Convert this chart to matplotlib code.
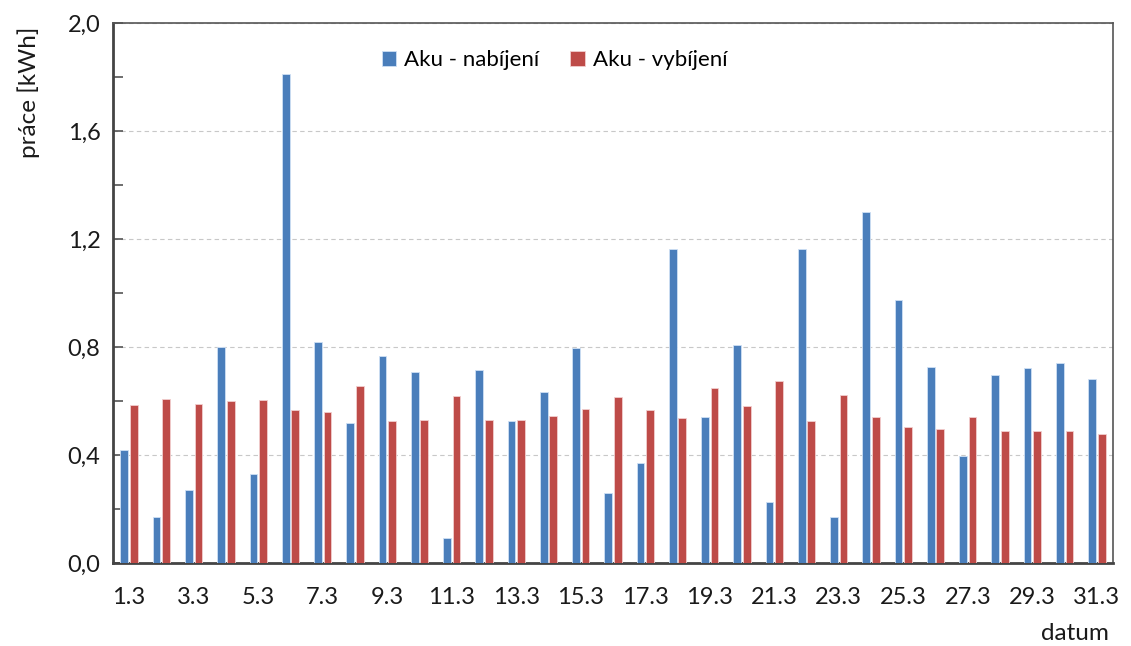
import matplotlib
matplotlib.use("Agg")
import matplotlib.pyplot as plt
import numpy as np

days = [f"{d}.3" for d in range(1, 32)]
nabijeni = [0.42, 0.17, 0.27, 0.80, 0.33, 1.81, 0.82, 0.52, 0.765, 0.706, 0.094,
            0.715, 0.527, 0.632, 0.795, 0.26, 0.372, 1.162, 0.542, 0.809, 0.226,
            1.162, 0.172, 1.299, 0.973, 0.726, 0.395, 0.696, 0.721, 0.741, 0.682]
vybijeni = [0.585, 0.609, 0.589, 0.600, 0.604, 0.566, 0.561, 0.657, 0.527, 0.531,
            0.619, 0.531, 0.531, 0.546, 0.570, 0.614, 0.566, 0.537, 0.648, 0.580,
            0.673, 0.527, 0.623, 0.542, 0.502, 0.498, 0.542, 0.488, 0.488, 0.488, 0.478]

plt.rcParams['font.family'] = ['Lato', 'DejaVu Sans']
fig = plt.figure(figsize=(11.31, 6.46), dpi=100)
ax = fig.add_axes([113/1131, 1 - 563/646, 1000/1131, 540/646])

x = np.arange(len(days))
w = 0.24
off = 0.148
blue = '#4a7ebb'
red = '#be4b48'
ax.bar(x - off, nabijeni, w, color=blue, edgecolor='#cfe0f5', linewidth=0.6,
       label='Aku - nabíjení', zorder=3)
ax.bar(x + off, vybijeni, w, color=red, edgecolor='#f2cfcf', linewidth=0.6,
       label='Aku - vybíjení', zorder=3)

ax.set_xlim(-0.5, len(days) - 0.5)
ax.set_ylim(0, 2.0)
ax.set_yticks(np.arange(0, 2.01, 0.4))
ax.set_yticklabels([f"{v:.1f}".replace('.', ',') for v in np.arange(0, 2.01, 0.4)])
ax.set_yticks(np.arange(0, 2.01, 0.2), minor=True)
ax.tick_params(axis='y', which='both', direction='in', length=7, width=1.2,
               color='#555555', labelsize=17, pad=9, labelcolor='#1a1a1a')
ax.set_xticks(x[::2])
ax.set_xticklabels(days[::2])
ax.tick_params(axis='x', length=0, labelsize=17, pad=17, labelcolor='#1a1a1a')

ax.yaxis.grid(True, which='major', linestyle=(0, (4, 3)), color='#c8c8c8', linewidth=0.8)
ax.set_axisbelow(True)

for side in ['left', 'bottom']:
    ax.spines[side].set_linewidth(2.0)
    ax.spines[side].set_color('#444444')
for side in ['top', 'right']:
    ax.spines[side].set_linewidth(1.2)
    ax.spines[side].set_color('#555555')

ax.set_ylabel('práce [kWh]', fontsize=17.5, color='#1a1a1a')
ax.yaxis.set_label_coords(-0.073, 0.872)
fig.text(1075/1131, 1 - 634/646, 'datum', fontsize=17.5, ha='center', va='center',
         color='#1a1a1a')

leg = ax.legend(loc='center', bbox_to_anchor=(0.4415, 0.931), ncol=2, frameon=False,
                fontsize=16, handlelength=0.65, handleheight=0.65, handletextpad=0.35,
                columnspacing=1.4)

fig.savefig('out.png', dpi=100, facecolor='white')
